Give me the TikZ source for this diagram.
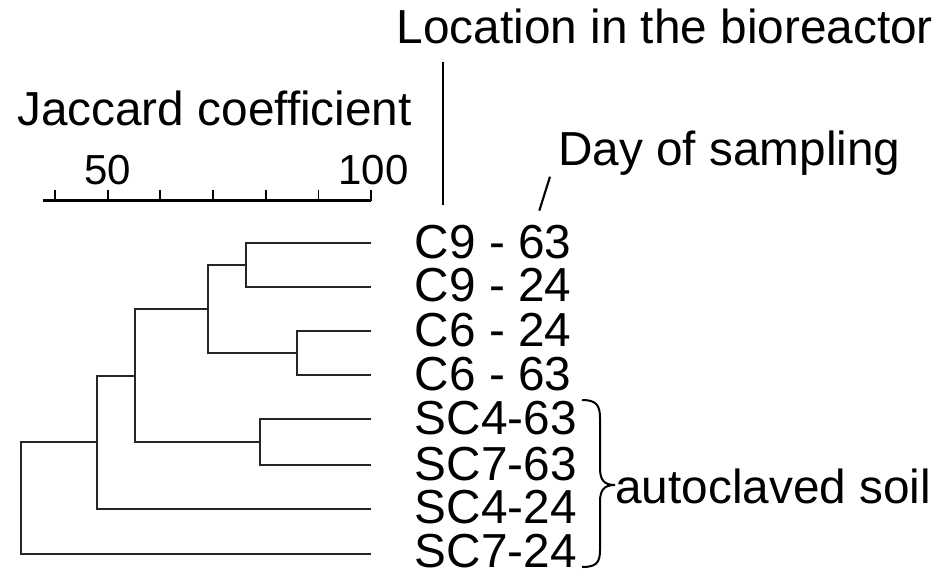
\documentclass[tikz,border=0pt]{standalone}
\usepackage{fontspec}
\setmainfont{Liberation Sans}
\begin{document}
\begin{tikzpicture}[x=0.75pt,y=-0.75pt,
  big/.style={inner sep=0pt,font=\fontsize{35.8}{40}\selectfont,anchor=base west},
  num/.style={inner sep=0pt,font=\fontsize{31.5}{36}\selectfont,anchor=base},
  tree/.style={line width=1.5pt,draw=black!85},
  scalebar/.style={line width=2.2pt},
  tick/.style={line width=1.4pt},
  pointer/.style={line width=1.6pt},
  bracestyle/.style={line width=1.5pt}]
\useasboundingbox (0,0) rectangle (948,570);
% titles
\node[big] (loc) at (396.6,44) {Location in the bioreactor};
\node[big] (jac) at (17,125.7) {Jaccard coefficient};
\node[big] (day) at (558,166) {Day of sampling};
\node[big] (auto) at (615,503) {autoclaved soil};
% scale bar
\coordinate (sbL) at (43,200.7);
\coordinate (sbR) at (371.2,200.7);
\draw[scalebar] (sbL) -- (sbR);
\foreach \i in {0,...,6}{
  \draw[tick] ({55+52.7*\i},190) -- ({55+52.7*\i},200.7);
}
\node[num] (n50) at (107.5,185) {50};
\node[num] (n100) at (373.5,185) {100};
% leaves
\foreach \n/\y in {1/243.3,2/286.7,3/331,4/375.3,5/419.3,6/465,7/508.7,8/554}{
  \coordinate (l\n) at (371.2,\y);
}
\node[big] (lab1) at (414.5,258.3) {C9 - 63};
\node[big] (lab2) at (414.5,301.7) {C9 - 24};
\node[big] (lab3) at (414.5,346) {C6 - 24};
\node[big] (lab4) at (414.5,390.3) {C6 - 63};
\node[big] (lab5) at (414.5,434.3) {SC4-63};
\node[big] (lab6) at (414.5,480) {SC7-63};
\node[big] (lab7) at (414.5,523.7) {SC4-24};
\node[big] (lab8) at (414.5,567.5) {SC7-24};
% internal nodes
\coordinate (c1) at (245.7,265);
\coordinate (c2) at (297.3,353.2);
\coordinate (c3) at (208,309);
\coordinate (c4) at (260,442.2);
\coordinate (c5) at (134.7,375.5);
\coordinate (c6) at (97,442.2);
\coordinate (c7) at (20.7,500);
\draw[tree] (l1) -| (c1) |- (l2);
\draw[tree] (l3) -| (c2) |- (l4);
\draw[tree] (c1) -| (c3) |- (c2);
\draw[tree] (l5) -| (c4) |- (l6);
\draw[tree] (c3) -| (c5) |- (c4);
\draw[tree] (c5) -| (c6) |- (l7);
\draw[tree] (c6) -| (c7) |- (l8);
% pointers
\coordinate (p1a) at (442.7,61.7);
\coordinate (p1b) at (442.7,205);
\draw[pointer] (p1a) -- (p1b);
\coordinate (p2a) at (550,176.7);
\coordinate (p2b) at (539.3,210.7);
\draw[pointer] (p2a) -- (p2b);
% brace
\draw[bracestyle] (582,400) .. controls (596,400) and (600,405) .. (600,418)
  -- (600,468) .. controls (600,480) and (604,485) .. (615,485)
  .. controls (604,485) and (600,490) .. (600,502)
  -- (600,550) .. controls (600,563) and (596,567) .. (582,567);
\end{tikzpicture}
\end{document}
